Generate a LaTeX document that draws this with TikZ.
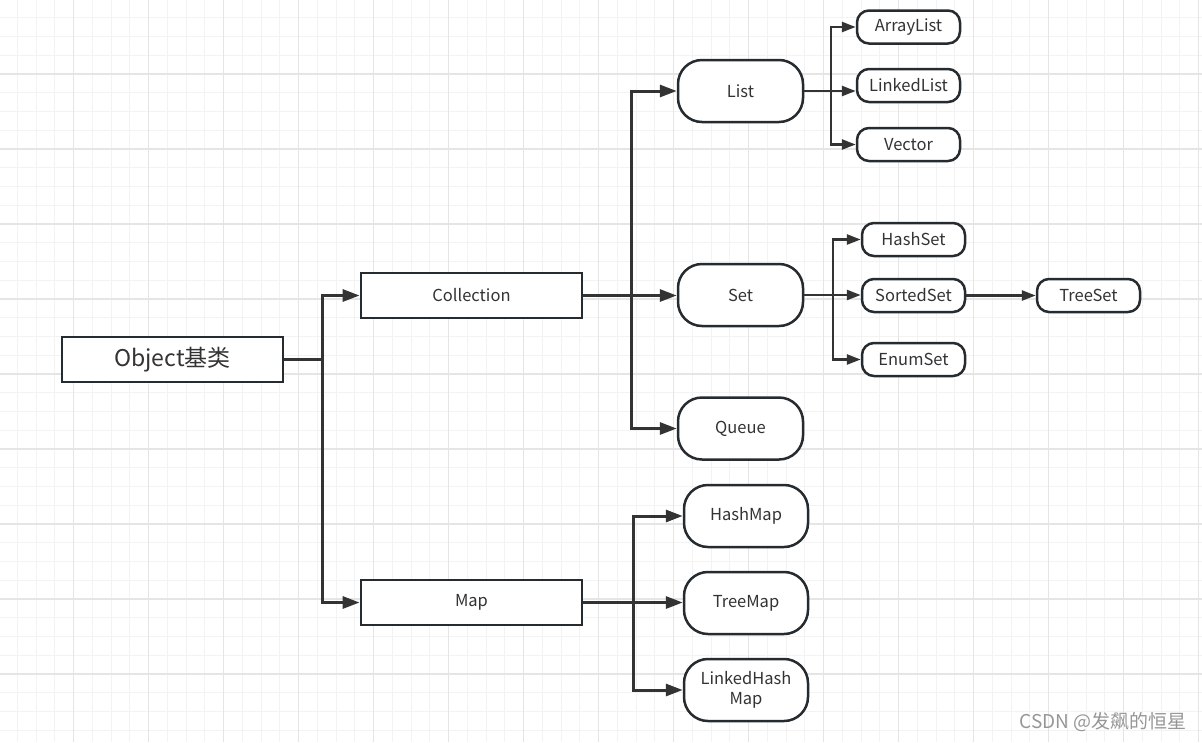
\documentclass[tikz,border=0pt]{standalone}
\usepackage{fontspec}
\setmainfont{Noto Sans CJK SC}
\usetikzlibrary{arrows.meta}
\definecolor{minorgrid}{RGB}{243,243,243}
\definecolor{majorgrid}{RGB}{229,229,229}
\definecolor{boxline}{RGB}{38,43,48}
\definecolor{conline}{RGB}{51,51,51}
\definecolor{txt}{RGB}{51,51,51}
\definecolor{wm}{RGB}{150,150,150}
\tikzset{
  rectbox/.style={draw=boxline, line width=2.8pt, fill=white, minimum width=221pt, minimum height=45pt, inner sep=0pt, text=txt, font=\fontsize{16.5}{19}\selectfont},
  bigbox/.style={draw=boxline, line width=2.8pt, fill=white, minimum width=221pt, minimum height=45pt, inner sep=0pt, text=txt, font=\fontsize{23}{27}\selectfont},
  midbox/.style={draw=boxline, line width=2.5pt, fill=white, rounded corners=24pt, minimum width=125pt, minimum height=62pt, inner sep=0pt, text=txt, align=center, font=\fontsize{16.5}{20}\selectfont},
  smallbox/.style={draw=boxline, line width=2.5pt, fill=white, rounded corners=12pt, minimum width=103pt, minimum height=33pt, inner sep=0pt, text=txt, font=\fontsize{16.5}{19}\selectfont},
  conn/.style={draw=conline, line width=3pt, -{Triangle[length=17pt,width=12pt]}},
  sconn/.style={draw=conline, line width=2.6pt, -{Triangle[length=14pt,width=10pt]}},
  bar/.style={draw=conline, line width=3pt}
}
\begin{document}
\begin{tikzpicture}[x=1pt,y=-1pt]
\useasboundingbox (0,0) rectangle (1202,742);
% grid
\foreach \i in {0,...,64} {
  \draw[minorgrid, line width=1pt] ({-1.5+18.75*\i},0) -- ({-1.5+18.75*\i},742);
}
\foreach \j in {0,...,40} {
  \draw[minorgrid, line width=1pt] (0,{-1+18.75*\j}) -- (1202,{-1+18.75*\j});
}
\foreach \i in {1,...,16} {
  \draw[majorgrid, line width=1.1pt] ({-1.5+75*\i},0) -- ({-1.5+75*\i},742);
}
\foreach \j in {1,...,9} {
  \draw[majorgrid, line width=1.1pt] (0,{-1+75*\j}) -- (1202,{-1+75*\j});
}
% nodes
\node[bigbox] (obj) at (172.5,359.5) {Object基类};
\node[rectbox] (coll) at (471.5,295.5) {Collection};
\node[rectbox] (map) at (471.5,602.5) {Map};
\node[midbox] (list) at (740.5,91) {List};
\node[midbox] (set) at (740.5,295) {Set};
\node[midbox] (queue) at (740.5,428.5) {Queue};
\node[midbox, minimum width=124pt] (hmap) at (746,516) {HashMap};
\node[midbox, minimum width=124pt] (tmap) at (746,603) {TreeMap};
\node[midbox, minimum width=124pt] (lhmap) at (746,690) {LinkedHash\\Map};
\node[smallbox] (alist) at (908.5,27) {ArrayList};
\node[smallbox] (llist) at (908.5,85.5) {LinkedList};
\node[smallbox] (vec) at (908.5,144.5) {Vector};
\node[smallbox] (hset) at (913.5,239.5) {HashSet};
\node[smallbox] (sset) at (913.5,295.5) {SortedSet};
\node[smallbox] (eset) at (913.5,359.5) {EnumSet};
\node[smallbox] (tset) at (1088.5,295.5) {TreeSet};
% junction columns
\coordinate (jo) at (322,0);
\coordinate (jc) at (631,0);
\coordinate (jm) at (633,0);
\coordinate (jl) at (831,0);
\coordinate (js) at (833,0);
% connectors
\draw[conn] (obj.east) -- (obj.east -| jo) |- (coll.west);
\draw[conn] (obj.east) -- (obj.east -| jo) |- (map.west);
\draw[conn] (coll.east) -- (coll.east -| jc) |- (list.west);
\draw[conn] (coll.east) -- (set.west |- coll.east);
\draw[conn] (coll.east) -- (coll.east -| jc) |- (queue.west);
\draw[conn] (map.east) -- (map.east -| jm) |- (hmap.west);
\draw[conn] (map.east) -- (tmap.west |- map.east);
\draw[conn] (map.east) -- (map.east -| jm) |- (lhmap.west);
\draw[sconn] (list.east) -- (list.east -| jl) |- (alist.west);
\draw[sconn] (list.east) -- (list.east -| llist.west);
\draw[sconn] (list.east) -- (list.east -| jl) |- (vec.west);
\draw[sconn] (set.east) -- (set.east -| js) |- (hset.west);
\draw[sconn] (set.east) -- (sset.west |- set.east);
\draw[sconn] (set.east) -- (set.east -| js) |- (eset.west);
\draw[sconn] (sset.east) -- (tset.west);
% watermark
\node[anchor=east, text=wm, inner sep=0pt, font=\fontsize{19}{22}\selectfont] (wmk) at (1187,722) {CSDN @发飙的恒星};
\end{tikzpicture}
\end{document}
